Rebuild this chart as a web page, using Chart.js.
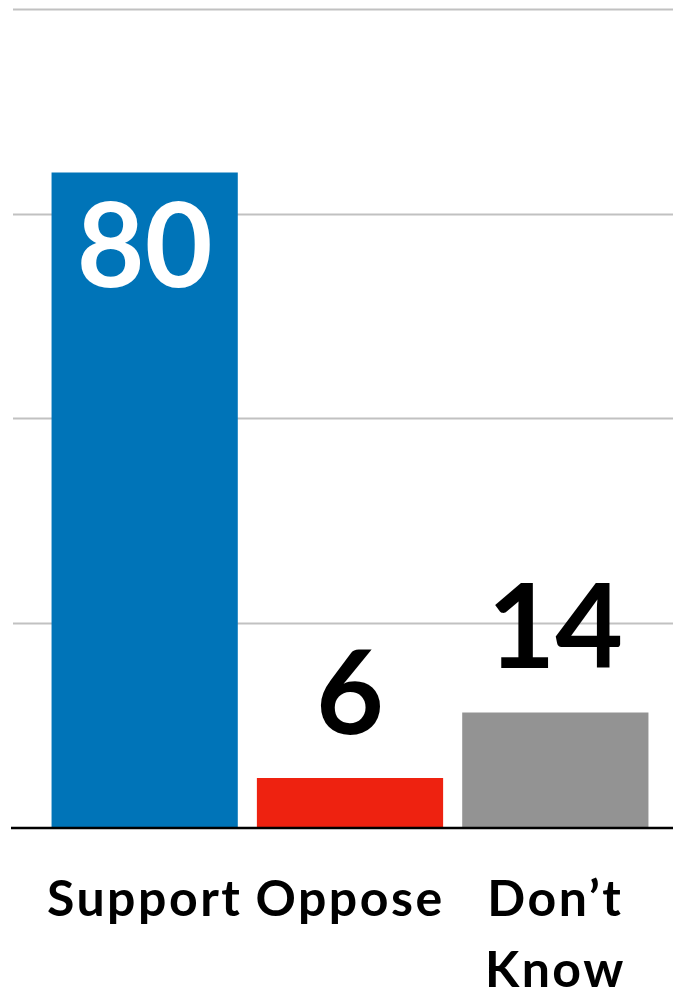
<!DOCTYPE html>
<html>
<head>
<meta charset="utf-8">
<script src="https://cdn.jsdelivr.net/npm/chart.js@4"></script>
<style>
  html, body { margin: 0; padding: 0; background: #fff; }
  #wrap { width: 673px; height: 996px; }
</style>
</head>
<body>
<div id="wrap"><canvas id="chart"></canvas></div>
<script>
// data
const categories = ["Support", "Oppose", ["Don\u2019t", "Know"]]
const values = [80, 6, 14]
const barColors = ["#0074b8", "#ee2210", "#939393"]
const labelColors = ["#ffffff", "#000000", "#000000"]
const gridValues = [25, 50, 75, 100]

const FONT = "Lato, 'Open Sans', sans-serif"

// gridlines run wider than the bar area, so draw them by hand from the y scale
const gridPlugin = {
  id: "wideGrid",
  beforeDraw(chart) {
    // the category labels are set a bit wider than Lato's default
    chart.ctx.letterSpacing = "2.5px"
  },
  afterDraw(chart) {
    chart.ctx.letterSpacing = "0px"
  },
  beforeDatasetsDraw(chart) {
    const ctx = chart.ctx
    const y = chart.scales.y
    ctx.save()
    ctx.strokeStyle = "#c1c1c1"
    ctx.lineWidth = 2
    gridValues.forEach((v) => {
      const py = Math.round(y.getPixelForValue(v)) + 0.5
      ctx.beginPath()
      ctx.moveTo(13, py)
      ctx.lineTo(chart.width, py)
      ctx.stroke()
    })
    ctx.restore()
  },
  afterDatasetsDraw(chart) {
    const ctx = chart.ctx
    const y = chart.scales.y
    const py = y.getPixelForValue(0) + 1
    ctx.save()
    ctx.strokeStyle = "#000000"
    ctx.lineWidth = 2.5
    ctx.beginPath()
    ctx.moveTo(11, py)
    ctx.lineTo(chart.width, py)
    ctx.stroke()
    ctx.restore()
  },
}

// value labels: big one inside the tall bar, the rest above
const valuePlugin = {
  id: "valueLabels",
  afterDatasetsDraw(chart) {
    const ctx = chart.ctx
    const meta = chart.getDatasetMeta(0)
    ctx.save()
    ctx.letterSpacing = "0px"
    ctx.font = "700 117px " + FONT
    ctx.textAlign = "center"
    meta.data.forEach((bar, i) => {
      ctx.fillStyle = labelColors[i]
      if (values[i] > 50) {
        ctx.textBaseline = "top"
        ctx.fillText(String(values[i]), bar.x, bar.y + 18)
      } else {
        ctx.textBaseline = "alphabetic"
        ctx.fillText(String(values[i]), bar.x, bar.y - 44)
      }
    })
    ctx.restore()
  },
}

const ctx = document.getElementById("chart").getContext("2d")
new Chart(ctx, {
  type: "bar",
  data: {
    labels: categories,
    datasets: [
      {
        data: values,
        backgroundColor: barColors,
        borderWidth: 0,
        categoryPercentage: 1,
        barPercentage: 0.907,
      },
    ],
  },
  options: {
    responsive: true,
    maintainAspectRatio: false,
    animation: false,
    layout: {
      padding: { left: 42, right: 15, top: 9, bottom: 0 },
    },
    scales: {
      y: {
        display: false,
        min: 0,
        max: 100,
      },
      x: {
        grid: { display: false, drawTicks: false },
        border: { display: false },
        ticks: {
          color: "#000000",
          padding: 37,
          maxRotation: 0,
          autoSkip: false,
          font: { family: FONT, size: 50, weight: "700", lineHeight: "71px" },
        },
        afterFit(scale) {
          scale.height = 169
        },
      },
    },
    plugins: {
      legend: { display: false },
      tooltip: { enabled: false },
    },
  },
  plugins: [gridPlugin, valuePlugin],
})
</script>
</body>
</html>
